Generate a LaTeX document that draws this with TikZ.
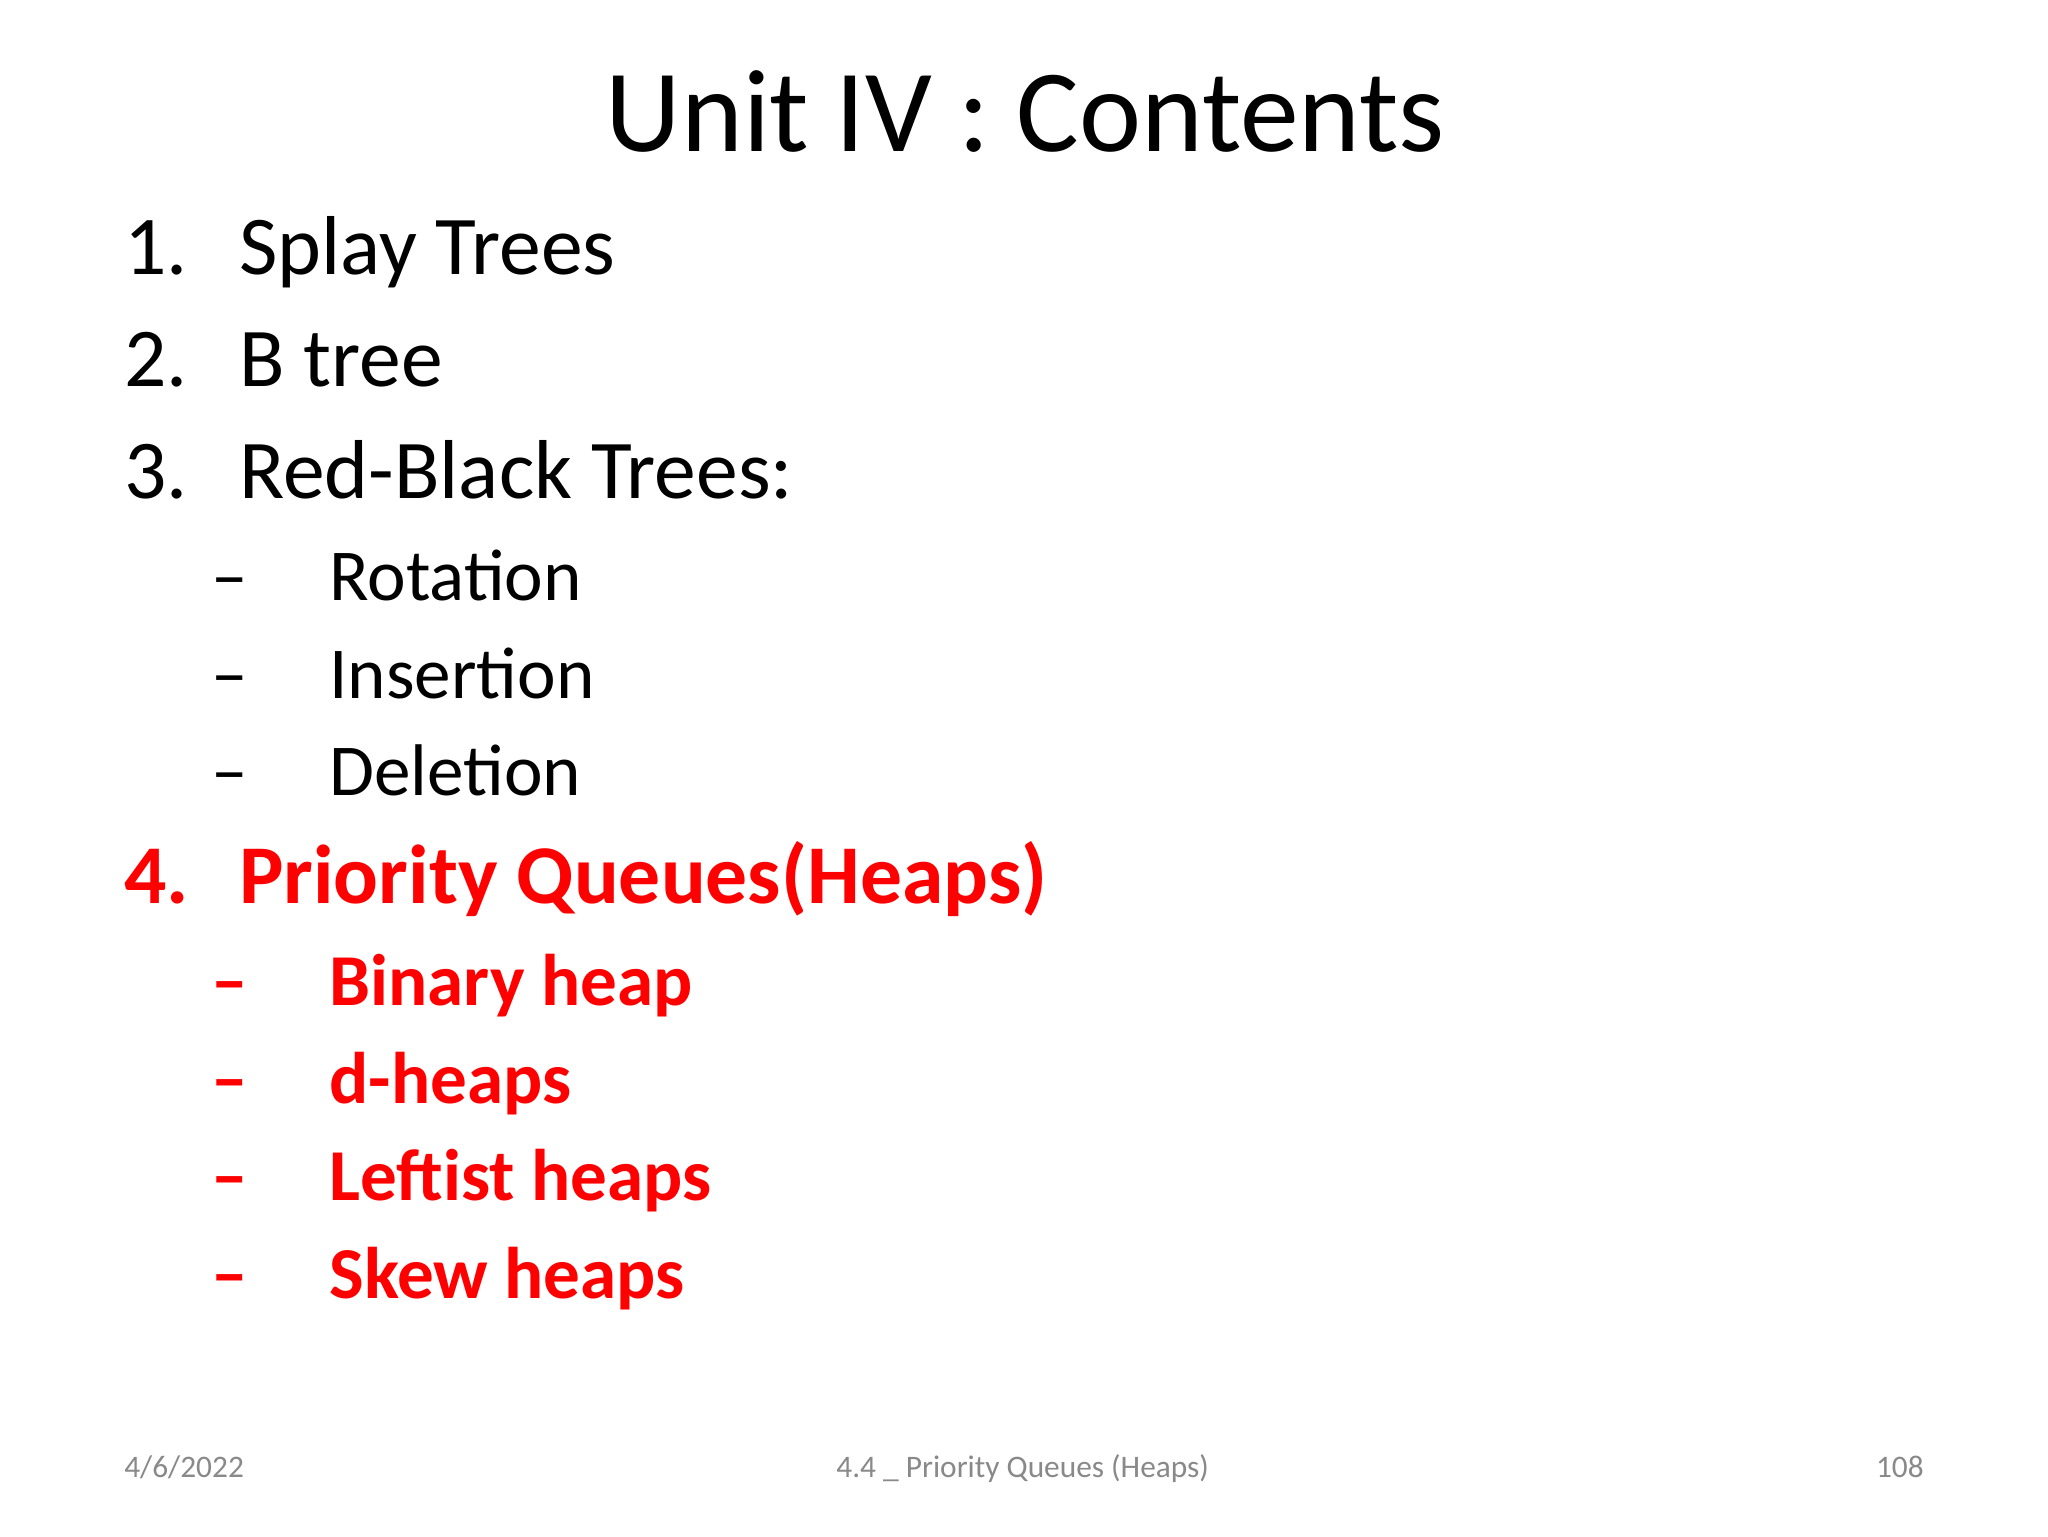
\documentclass[tikz,border=0pt]{standalone}
\usepackage{fontspec}
\setmainfont{Carlito}
\definecolor{myred}{RGB}{255,0,0}
\definecolor{foot}{RGB}{137,137,137}
\begin{document}
\begin{tikzpicture}[x=1pt,y=-1pt,
  lone/.style={anchor=base west,inner sep=0pt,font=\fontsize{64}{70}\selectfont},
  ltwo/.style={anchor=base west,inner sep=0pt,font=\fontsize{56}{62}\selectfont},
  hot/.style={text=myred,font=\fontsize{64}{70}\selectfont\bfseries},
  hottwo/.style={text=myred,font=\fontsize{56}{62}\selectfont\bfseries},
  ft/.style={anchor=base,inner sep=0pt,text=foot,font=\fontsize{24}{28}\selectfont}]
\useasboundingbox[fill=white] (0,0) rectangle (1568,1176);
\node[anchor=base,inner sep=0pt,font=\fontsize{90}{96}\selectfont] (title) at (785,116) {Unit IV : Contents};
\node[lone] (n1) at (95,210) {1.}; \node[lone] (t1) at (183,210) {Splay Trees};
\node[lone] (n2) at (95,296) {2.}; \node[lone] (t2) at (183,296) {B tree};
\node[lone] (n3) at (95,382) {3.}; \node[lone] (t3) at (183,382) {Red-Black Trees:};
\node[ltwo] (d1) at (162,460) {--}; \node[ltwo] (s1) at (252,460) {Rotation};
\node[ltwo] (d2) at (162,535) {--}; \node[ltwo] (s2) at (252,535) {Insertion};
\node[ltwo] (d3) at (162,609) {--}; \node[ltwo] (s3) at (252,609) {Deletion};
\node[lone,hot] (n4) at (95,692) {4.}; \node[lone,hot] (t4) at (183,692) {Priority Queues(Heaps)};
\node[ltwo,hottwo] (d4) at (162,770) {--}; \node[ltwo,hottwo] (s4) at (252,770) {Binary heap};
\node[ltwo,hottwo] (d5) at (162,845) {--}; \node[ltwo,hottwo] (s5) at (252,845) {d-heaps};
\node[ltwo,hottwo] (d6) at (162,919) {--}; \node[ltwo,hottwo] (s6) at (252,919) {Leftist heaps};
\node[ltwo,hottwo] (d7) at (162,994) {--}; \node[ltwo,hottwo] (s7) at (252,994) {Skew heaps};
\node[ft,anchor=base west] (f1) at (95,1131) {4/6/2022};
\node[ft] (f2) at (783,1131) {4.4 \_ Priority Queues (Heaps)};
\node[ft,anchor=base east] (f3) at (1473,1131) {108};
\end{tikzpicture}
\end{document}
